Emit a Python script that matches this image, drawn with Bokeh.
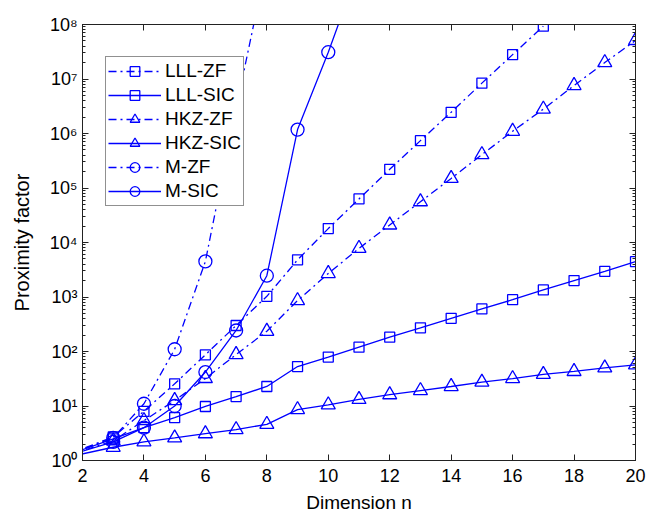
from bokeh.plotting import figure
from bokeh.models import (LinearAxis, LogAxis, Range1d, FixedTicker, LogTicker,
                          CustomJSTickFormatter, Legend, LegendItem)
from bokeh.embed import file_html
from bokeh.resources import INLINE

# ---------------- data ----------------
n_lll_zf = [1, 3, 4, 5, 6, 7, 8, 9, 10, 11, 12, 13, 14, 15, 16, 17]
lll_zf = [1.0, 2.7, 8.0, 25.5, 87, 300, 1030, 4800, 18000, 63000, 2.2e5,
          7.4e5, 2.45e6, 8.4e6, 2.8e7, 9.3e7]

n_lll_sic = [1, 3, 4, 5, 6, 7, 8, 9, 10, 11, 12, 13, 14, 15, 16, 17, 18, 19, 20]
lll_sic = [1.0, 2.5, 4.0, 6.1, 9.8, 14.9, 22.8, 53, 79, 120, 183, 272, 407,
           605, 893, 1350, 2000, 2960, 4450]

n_hkz_zf = [1, 3, 4, 5, 6, 7, 8, 9, 10, 11, 12, 13, 14, 15, 16, 17, 18, 19, 20]
hkz_zf = [1.0, 2.3, 5.4, 12.6, 32, 88, 235, 860, 2700, 7800, 21000, 56000,
          1.5e5, 4.1e5, 1.1e6, 2.8e6, 7.6e6, 2.0e7, 5.1e7]

n_hkz_sic = [1, 3, 4, 5, 6, 7, 8, 9, 10, 11, 12, 13, 14, 15, 16, 17, 18, 19, 20]
hkz_sic = [1.0, 1.75, 2.2, 2.6, 3.1, 3.7, 4.6, 8.6, 10.5, 13.2, 16.1, 19.2,
           22.8, 27.4, 31.8, 38, 43, 50, 57]

n_m_zf = [1, 3, 4, 5, 6, 7, 8]
m_zf = [1.0, 2.6, 11, 110, 4500, 2.9e6, 1.4e9]

n_m_sic = [1, 3, 4, 5, 6, 7, 8, 9, 10, 11]
m_sic = [1.0, 2.2, 4.0, 10, 42, 243, 2460, 1.18e6, 3.1e7, 1.1e9]

x_ticks = [2, 4, 6, 8, 10, 12, 14, 16, 18, 20]
x_label = "Dimension n"
y_label = "Proximity factor"

# ---------------- figure ----------------
FONT = "Liberation Sans"
BLUE = "#0000ff"
AX = "#222222"

p = figure(width=647, height=517, output_backend="svg", toolbar_location=None,
           x_range=Range1d(2, 20), y_range=Range1d(1, 1e8), y_axis_type="log",
           min_border_left=82, min_border_right=12, min_border_top=24,
           min_border_bottom=57)
p.xgrid.visible = False
p.ygrid.visible = False
p.outline_line_color = AX
p.outline_line_width = 1
p.background_fill_color = "white"
p.border_fill_color = "white"

sup = CustomJSTickFormatter(code="""
const s = {'0':'\u2070','1':'\u00b9','2':'\u00b2','3':'\u00b3','4':'\u2074',
           '5':'\u2075','6':'\u2076','7':'\u2077','8':'\u2078','9':'\u2079'};
const e = Math.round(Math.log10(tick));
return '10' + String(e).split('').map(c => s[c]).join('');
""")

def style_axis(ax, labels=True):
    ax.axis_line_color = AX
    ax.major_tick_in = 6
    ax.major_tick_out = 0
    ax.minor_tick_in = 3
    ax.minor_tick_out = 0
    ax.major_tick_line_color = AX
    ax.minor_tick_line_color = AX
    ax.major_label_text_font = FONT
    ax.major_label_text_font_size = "18px"
    ax.major_label_text_color = "black"
    ax.axis_label_text_font = FONT
    ax.axis_label_text_font_size = "19px"
    ax.axis_label_text_font_style = "normal"
    ax.axis_label_text_color = "black"
    if not labels:
        ax.major_label_text_font_size = "0px"
        ax.major_label_text_color = None
        ax.major_label_standoff = 0

xt = FixedTicker(ticks=x_ticks, minor_ticks=[])
yt = LogTicker(num_minor_ticks=10)

p.xaxis.ticker = xt
p.xaxis.axis_label = x_label
style_axis(p.xaxis[0])
p.xaxis.major_label_standoff = 8
p.xaxis.axis_label_standoff = 7
p.xaxis.minor_tick_in = 0

p.yaxis.ticker = yt
p.yaxis.formatter = sup
p.yaxis.axis_label = y_label
style_axis(p.yaxis[0])
p.yaxis.axis_label_text_font_size = "20px"
p.yaxis.major_label_standoff = 5
p.yaxis.axis_label_standoff = 14

top = LinearAxis(ticker=xt)
style_axis(top, labels=False)
top.minor_tick_in = 0
p.add_layout(top, "above")
right = LogAxis(ticker=yt)
style_axis(right, labels=False)
p.add_layout(right, "right")

series = [
    ("LLL-ZF", n_lll_zf, lll_zf, "8 4 2 4", "square", 10),
    ("LLL-SIC", n_lll_sic, lll_sic, "solid", "square", 10),
    ("HKZ-ZF", n_hkz_zf, hkz_zf, "8 4 2 4", "triangle", 14),
    ("HKZ-SIC", n_hkz_sic, hkz_sic, "solid", "triangle", 14),
    ("M-ZF", n_m_zf, m_zf, "8 4 2 4", "circle", 13),
    ("M-SIC", n_m_sic, m_sic, "solid", "circle", 13),
]

items = []
for name, xs, ys, dash, marker, size in series:
    l = p.line(xs, ys, line_color=BLUE, line_width=1.3, line_dash=dash)
    s = p.scatter(xs, ys, marker=marker, size=size, line_color=BLUE,
                  line_width=1.3, fill_alpha=0)
    items.append(LegendItem(label=name, renderers=[l, s]))

legend = Legend(items=items, location=(23, 254), margin=0)
legend.label_text_font = FONT
legend.label_text_font_size = "19px"
legend.label_text_color = "black"
legend.glyph_width = 53
legend.glyph_height = 24
legend.label_height = 24
legend.spacing = 0
legend.padding = 2
legend.label_standoff = 4
legend.border_line_color = AX
legend.border_line_width = 1
legend.background_fill_alpha = 1
legend.background_fill_color = "white"
p.add_layout(legend, "center")

open("out.html", "w").write(file_html(p, INLINE))
